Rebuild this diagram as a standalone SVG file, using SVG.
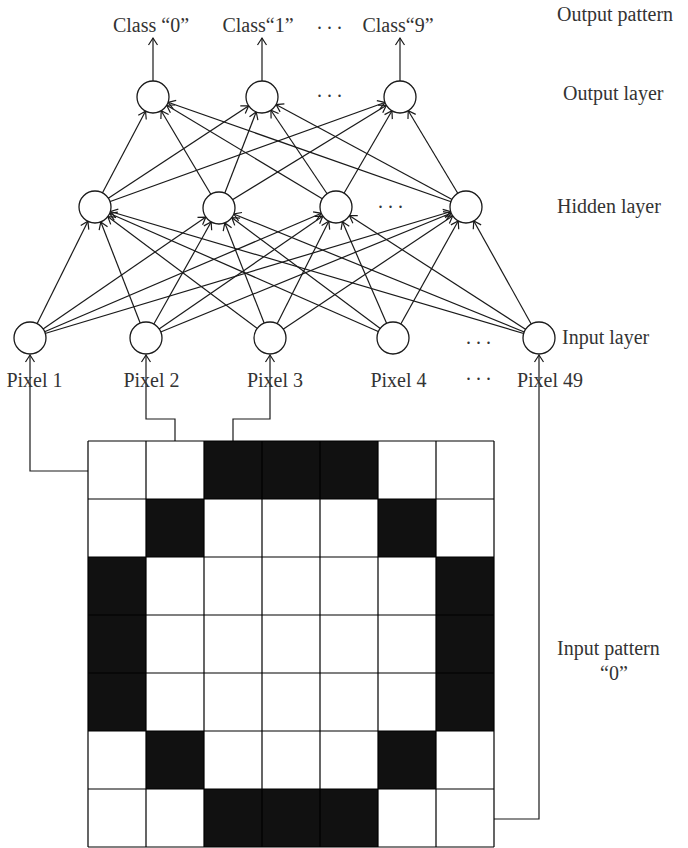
<svg xmlns="http://www.w3.org/2000/svg" width="688" height="848" viewBox="0 0 688 848">
  <style>
    .lbl { font-family: "Liberation Serif", "Times New Roman", serif; font-size: 20px; fill: #333; }
    .mid { text-anchor: middle; }
    .edge { stroke: #1a1a1a; stroke-width: 1.2; fill: none; }
    .net { marker-end: url(#headR); }
    .wire { marker-end: url(#head); }
    .node { fill: #fff; stroke: #1a1a1a; stroke-width: 1.3; }
    .on { fill: #111; }
    .gridline { stroke: #000; stroke-width: 1.2; fill: none; }
  </style>
  <defs>
    <!-- open chevron, tip on the path end -->
    <marker id="head" markerUnits="userSpaceOnUse" orient="auto" refX="0" refY="0" markerWidth="12" markerHeight="12" overflow="visible">
      <path d="M-7,-4.5 L0,0 L-7,4.5" fill="none" stroke="#1a1a1a" stroke-width="1.2"/>
    </marker>
    <!-- same chevron pulled back by one node radius (16) so it sits on the circle -->
    <marker id="headR" markerUnits="userSpaceOnUse" orient="auto" refX="16" refY="0" markerWidth="12" markerHeight="12" overflow="visible">
      <path d="M-7,-4.5 L0,0 L-7,4.5" fill="none" stroke="#1a1a1a" stroke-width="1.2"/>
    </marker>
  </defs>

  <rect width="688" height="848" fill="#fff"/>

  <g id="connectors">
    <!-- input -> hidden -->
    <path class="edge net" d="M30,338 L95,207"/>
    <path class="edge net" d="M30,338 L219,208"/>
    <path class="edge net" d="M30,338 L336,207"/>
    <path class="edge net" d="M30,338 L466,207"/>
    <path class="edge net" d="M146,338 L95,207"/>
    <path class="edge net" d="M146,338 L219,208"/>
    <path class="edge net" d="M146,338 L336,207"/>
    <path class="edge net" d="M146,338 L466,207"/>
    <path class="edge net" d="M270,338 L95,207"/>
    <path class="edge net" d="M270,338 L219,208"/>
    <path class="edge net" d="M270,338 L336,207"/>
    <path class="edge net" d="M270,338 L466,207"/>
    <path class="edge net" d="M393,338 L95,207"/>
    <path class="edge net" d="M393,338 L219,208"/>
    <path class="edge net" d="M393,338 L336,207"/>
    <path class="edge net" d="M393,338 L466,207"/>
    <path class="edge net" d="M539,338 L95,207"/>
    <path class="edge net" d="M539,338 L219,208"/>
    <path class="edge net" d="M539,338 L336,207"/>
    <path class="edge net" d="M539,338 L466,207"/>
    <!-- hidden -> output -->
    <path class="edge net" d="M95,207 L153,97"/>
    <path class="edge net" d="M95,207 L262,97"/>
    <path class="edge net" d="M95,207 L400,97"/>
    <path class="edge net" d="M219,208 L153,97"/>
    <path class="edge net" d="M219,208 L262,97"/>
    <path class="edge net" d="M219,208 L400,97"/>
    <path class="edge net" d="M336,207 L153,97"/>
    <path class="edge net" d="M336,207 L262,97"/>
    <path class="edge net" d="M336,207 L400,97"/>
    <path class="edge net" d="M466,207 L153,97"/>
    <path class="edge net" d="M466,207 L262,97"/>
    <path class="edge net" d="M466,207 L400,97"/>
    <!-- output -> class labels -->
    <path class="edge wire" d="M153,81 L153,38"/>
    <path class="edge wire" d="M262,81 L262,38"/>
    <path class="edge wire" d="M400,81 L400,38"/>
    <!-- pattern cells -> input nodes -->
    <path class="edge wire" d="M88,471 L30,471 L30,355"/>
    <path class="edge wire" d="M175,441 L175,419 L146,419 L146,355"/>
    <path class="edge wire" d="M233,441 L233,419 L270,419 L270,355"/>
    <path class="edge wire" d="M494,819 L539,819 L539,355"/>
  </g>

  <g id="output-layer">
    <circle id="out0" class="node" cx="153" cy="97" r="16"/>
    <circle id="out1" class="node" cx="262" cy="97" r="16"/>
    <circle id="out9" class="node" cx="400" cy="97" r="16"/>
    <text class="lbl" x="317" y="97">. . .</text>
  </g>

  <g id="hidden-layer">
    <circle id="h1" class="node" cx="95" cy="207" r="16"/>
    <circle id="h2" class="node" cx="219" cy="208" r="16"/>
    <circle id="h3" class="node" cx="336" cy="207" r="16"/>
    <circle id="h4" class="node" cx="466" cy="207" r="16"/>
    <text class="lbl" x="378" y="208">. . .</text>
  </g>

  <g id="input-layer">
    <circle id="px1" class="node" cx="30" cy="338" r="16"/>
    <circle id="px2" class="node" cx="146" cy="338" r="16"/>
    <circle id="px3" class="node" cx="270" cy="338" r="16"/>
    <circle id="px4" class="node" cx="393" cy="338" r="16"/>
    <circle id="px49" class="node" cx="539" cy="338" r="16"/>
    <text class="lbl" x="466" y="344">. . .</text>
  </g>

  <g id="labels">
    <text class="lbl mid" x="151" y="32">Class “0”</text>
    <text class="lbl mid" x="258" y="32">Class“1”</text>
    <text class="lbl" x="317" y="29">. . .</text>
    <text class="lbl mid" x="398" y="32">Class“9”</text>

    <text class="lbl" x="557" y="21">Output pattern</text>
    <text class="lbl" x="563" y="100">Output layer</text>
    <text class="lbl" x="557" y="213">Hidden layer</text>
    <text class="lbl" x="562" y="344">Input layer</text>

    <text class="lbl mid" x="34.5" y="387">Pixel 1</text>
    <text class="lbl mid" x="151.5" y="387">Pixel 2</text>
    <text class="lbl mid" x="275" y="387">Pixel 3</text>
    <text class="lbl mid" x="398.5" y="387">Pixel 4</text>
    <text class="lbl" x="466" y="380">. . .</text>
    <text class="lbl mid" x="550" y="387">Pixel 49</text>

    <text class="lbl" x="557" y="655">Input pattern</text>
    <text class="lbl mid" x="614" y="680">“0”</text>
  </g>

  <g id="input-pattern">
    <!-- filled pixels of the 7x7 digit "0" -->
    <rect class="on" x="204" y="441" width="174" height="58"/>
    <rect class="on" x="146" y="499" width="58" height="58"/>
    <rect class="on" x="378" y="499" width="58" height="58"/>
    <rect class="on" x="88" y="557" width="58" height="174"/>
    <rect class="on" x="436" y="557" width="58" height="174"/>
    <rect class="on" x="146" y="731" width="58" height="58"/>
    <rect class="on" x="378" y="731" width="58" height="58"/>
    <rect class="on" x="204" y="789" width="174" height="58"/>
    <!-- cell grid -->
    <path class="gridline" d="M88,441 V847 M146,441 V847 M204,441 V847 M262,441 V847 M320,441 V847 M378,441 V847 M436,441 V847 M494,441 V847
                              M88,441 H494 M88,499 H494 M88,557 H494 M88,615 H494 M88,673 H494 M88,731 H494 M88,789 H494 M88,847 H494"/>
  </g>
</svg>
